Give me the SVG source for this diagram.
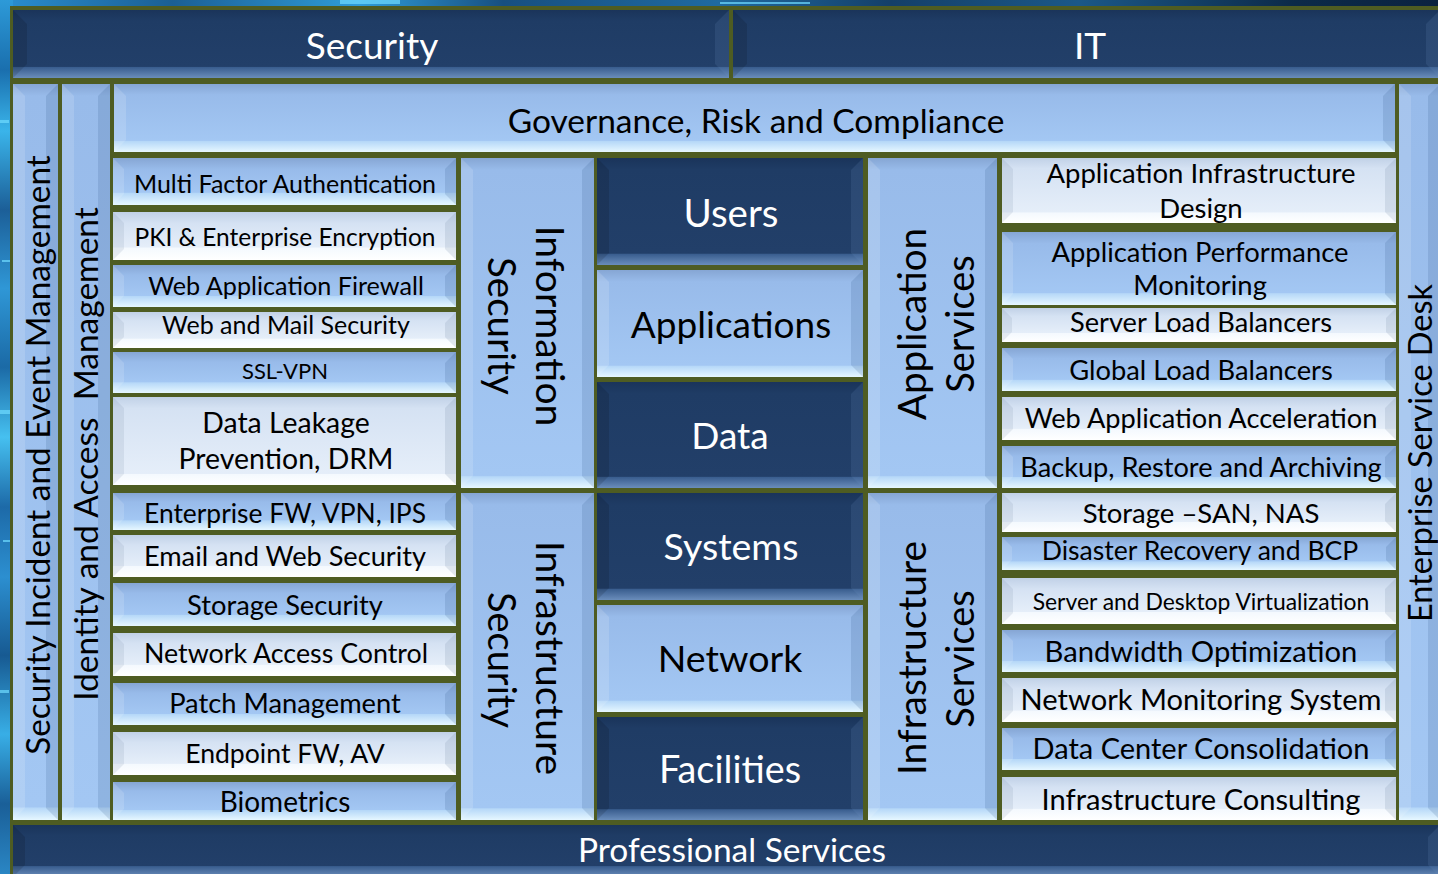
<svg xmlns="http://www.w3.org/2000/svg" width="1438" height="874" viewBox="0 0 1438 874">
  <defs>
    <!-- backdrop -->
    <linearGradient id="bgL" x1="0" y1="0" x2="0" y2="1">
      <stop offset="0" stop-color="#2d9ad8"/>
      <stop offset="0.08" stop-color="#1a6fae"/>
      <stop offset="0.15" stop-color="#3ab4ea"/>
      <stop offset="0.24" stop-color="#1c5f98"/>
      <stop offset="0.33" stop-color="#2f97d6"/>
      <stop offset="0.42" stop-color="#1b6aa6"/>
      <stop offset="0.5" stop-color="#46c0f0"/>
      <stop offset="0.58" stop-color="#1d6aa8"/>
      <stop offset="0.66" stop-color="#2c8fd0"/>
      <stop offset="0.75" stop-color="#175a92"/>
      <stop offset="0.84" stop-color="#38aee6"/>
      <stop offset="0.92" stop-color="#1a5f98"/>
      <stop offset="1" stop-color="#2a86c4"/>
    </linearGradient>
    <linearGradient id="bgT" x1="0" y1="0" x2="1" y2="0">
      <stop offset="0" stop-color="#2a8fd0"/>
      <stop offset="0.12" stop-color="#1b5f94"/>
      <stop offset="0.25" stop-color="#2f9cd8"/>
      <stop offset="0.35" stop-color="#174f80"/>
      <stop offset="0.5" stop-color="#1f6aa0"/>
      <stop offset="0.62" stop-color="#143f68"/>
      <stop offset="0.75" stop-color="#1b5888"/>
      <stop offset="0.9" stop-color="#0c2a48"/>
      <stop offset="1" stop-color="#0a2240"/>
    </linearGradient>

    <!-- light blue bevel fills, by box height -->
    <linearGradient id="lt42" x1="0" y1="0" x2="0" y2="1">
      <stop offset="0" stop-color="#86a6d4"/><stop offset="0.24" stop-color="#98bbea"/>
      <stop offset="0.73" stop-color="#a3c7f3"/><stop offset="0.75" stop-color="#b6d8f8"/>
      <stop offset="1" stop-color="#e6f7ff"/>
    </linearGradient>
    <linearGradient id="lt70" x1="0" y1="0" x2="0" y2="1">
      <stop offset="0" stop-color="#86a6d4"/><stop offset="0.16" stop-color="#98bbea"/>
      <stop offset="0.83" stop-color="#a3c7f3"/><stop offset="0.845" stop-color="#b6d8f8"/>
      <stop offset="1" stop-color="#e6f7ff"/>
    </linearGradient>
    <linearGradient id="lt107" x1="0" y1="0" x2="0" y2="1">
      <stop offset="0" stop-color="#86a6d4"/><stop offset="0.11" stop-color="#98bbea"/>
      <stop offset="0.89" stop-color="#a3c7f3"/><stop offset="0.9" stop-color="#b6d8f8"/>
      <stop offset="1" stop-color="#e6f7ff"/>
    </linearGradient>
    <linearGradient id="lt330" x1="0" y1="0" x2="0" y2="1">
      <stop offset="0" stop-color="#86a6d4"/><stop offset="0.036" stop-color="#98bbea"/>
      <stop offset="0.962" stop-color="#a3c7f3"/><stop offset="0.966" stop-color="#b6d8f8"/>
      <stop offset="1" stop-color="#e6f7ff"/>
    </linearGradient>
    <linearGradient id="lt736" x1="0" y1="0" x2="0" y2="1">
      <stop offset="0" stop-color="#86a6d4"/><stop offset="0.016" stop-color="#98bbea"/>
      <stop offset="0.982" stop-color="#a3c7f3"/><stop offset="0.984" stop-color="#b6d8f8"/>
      <stop offset="1" stop-color="#e6f7ff"/>
    </linearGradient>

    <!-- pale / white bevel fills -->
    <linearGradient id="wt42" x1="0" y1="0" x2="0" y2="1">
      <stop offset="0" stop-color="#c1d1e7"/><stop offset="0.24" stop-color="#d5e2f3"/>
      <stop offset="0.73" stop-color="#e5eef9"/><stop offset="0.75" stop-color="#f4f9fe"/>
      <stop offset="1" stop-color="#ffffff"/>
    </linearGradient>
    <linearGradient id="wt70" x1="0" y1="0" x2="0" y2="1">
      <stop offset="0" stop-color="#c1d1e7"/><stop offset="0.16" stop-color="#d5e2f3"/>
      <stop offset="0.83" stop-color="#e5eef9"/><stop offset="0.845" stop-color="#f4f9fe"/>
      <stop offset="1" stop-color="#ffffff"/>
    </linearGradient>
    <linearGradient id="wt88" x1="0" y1="0" x2="0" y2="1">
      <stop offset="0" stop-color="#c1d1e7"/><stop offset="0.13" stop-color="#d5e2f3"/>
      <stop offset="0.87" stop-color="#e5eef9"/><stop offset="0.88" stop-color="#f4f9fe"/>
      <stop offset="1" stop-color="#ffffff"/>
    </linearGradient>

    <!-- navy bevel fills -->
    <linearGradient id="dk70" x1="0" y1="0" x2="0" y2="1">
      <stop offset="0" stop-color="#1a345a"/><stop offset="0.16" stop-color="#1f3c65"/>
      <stop offset="0.83" stop-color="#223f69"/><stop offset="0.845" stop-color="#3a5e8f"/>
      <stop offset="1" stop-color="#6a8dbb"/>
    </linearGradient>
    <linearGradient id="dk107" x1="0" y1="0" x2="0" y2="1">
      <stop offset="0" stop-color="#1a345a"/><stop offset="0.11" stop-color="#1f3c65"/>
      <stop offset="0.89" stop-color="#223f69"/><stop offset="0.9" stop-color="#3a5e8f"/>
      <stop offset="1" stop-color="#6a8dbb"/>
    </linearGradient>
    <linearGradient id="dk52" x1="0" y1="0" x2="0" y2="1">
      <stop offset="0" stop-color="#1a345a"/><stop offset="0.2" stop-color="#1f3c65"/>
      <stop offset="0.78" stop-color="#223f69"/><stop offset="0.8" stop-color="#3a5e8f"/>
      <stop offset="1" stop-color="#6a8dbb"/>
    </linearGradient>

    <style>
      .sl { fill: #ffffff; fill-opacity: 0.14; }
      .sr { fill: #2c4f80; fill-opacity: 0.16; }
      .wl { fill: #7d8fa8; fill-opacity: 0.16; }
      .wr { fill: #7d8fa8; fill-opacity: 0.2; }
      .dl { fill: #000000; fill-opacity: 0.12; }
      .dr { fill: #7a9bcc; fill-opacity: 0.14; }
      text { font-family: Lato, "Open Sans", "Liberation Sans", sans-serif; text-anchor: middle; }
      .k { fill: #000000; }
      .w { fill: #ffffff; }
      .pre { white-space: pre; }
    </style>
  </defs>

  <!-- backdrop behind the grid -->
  <rect width="1438" height="874" fill="#0b2a48"/>
  <rect x="0" y="0" width="1438" height="10" fill="url(#bgT)"/>
  <rect x="0" y="0" width="13" height="874" fill="url(#bgL)"/>
  <g fill="#6fdcff" fill-opacity="0.7">
    <rect x="0" y="120" width="9" height="3"/>
    <rect x="2" y="260" width="8" height="2"/>
    <rect x="0" y="410" width="10" height="4"/>
    <rect x="3" y="540" width="7" height="2"/>
    <rect x="0" y="690" width="9" height="3"/>
    <rect x="340" y="0" width="60" height="4"/>
    <rect x="720" y="2" width="90" height="2"/>
  </g>

  <!-- olive frame showing between tiles -->
  <rect x="10" y="6" width="1430" height="870" fill="#4e5c22"/>

  <!-- header row -->
  <g id="security">
    <rect x="13" y="10" width="716" height="68" fill="url(#dk70)"/>
    <polygon class="dl" points="13,10 27,24 27,64 13,78"/>
    <polygon class="dr" points="729,10 715,24 715,64 729,78"/>
    <text class="w" x="372" y="59" font-size="37">Security</text>
  </g>
  <g id="it">
    <rect x="733" y="10" width="707" height="68" fill="url(#dk70)"/>
    <polygon class="dl" points="733,10 747,24 747,64 733,78"/>
    <polygon class="dr" points="1440,10 1426,24 1426,64 1440,78"/>
    <text class="w" x="1090" y="59" font-size="37">IT</text>
  </g>
  <g id="grc">
    <rect x="114" y="84" width="1281" height="68" fill="url(#lt70)"/>
    <polygon class="sl" points="114,84 126,96 126,140 114,152"/>
    <polygon class="sr" points="1395,84 1383,96 1383,140 1395,152"/>
    <text class="k" x="756" y="133" font-size="33.5">Governance, Risk and Compliance</text>
  </g>

  <!-- outer vertical bands -->
  <g id="siem">
    <rect x="13" y="84" width="45" height="736" fill="url(#lt736)"/>
    <polygon class="sl" points="13,84 25,96 25,808 13,820"/>
    <polygon class="sr" points="58,84 46,96 46,808 58,820"/>
    <text class="k" transform="translate(50,455) rotate(-90)" font-size="33.3">Security Incident and Event Management</text>
  </g>
  <g id="iam">
    <rect x="62" y="84" width="48" height="736" fill="url(#lt736)"/>
    <polygon class="sl" points="62,84 74,96 74,808 62,820"/>
    <polygon class="sr" points="110,84 98,96 98,808 110,820"/>
    <text class="k pre" transform="translate(98,454) rotate(-90)" font-size="33.5">Identity and Access  Management</text>
  </g>
  <g id="service-desk">
    <rect x="1399" y="84" width="41" height="736" fill="url(#lt736)"/>
    <polygon class="sl" points="1399,84 1411,96 1411,808 1399,820"/>
    <polygon class="sr" points="1440,84 1428,96 1428,808 1440,820"/>
    <text class="k" transform="translate(1432,453) rotate(-90)" font-size="32.5">Enterprise Service Desk</text>
  </g>
  <g id="professional-services">
    <rect x="13" y="825" width="1427" height="52" fill="url(#dk52)"/>
    <polygon class="dl" points="13,825 25,837 25,865 13,877"/>
    <polygon class="dr" points="1440,825 1428,837 1428,865 1440,877"/>
    <text class="w" x="732" y="862" font-size="33.5">Professional Services</text>
  </g>

  <!-- security offerings, left list -->
  <g id="mfa">
    <rect x="113" y="158" width="343" height="47" fill="url(#lt42)"/>
    <polygon class="sl" points="113,158 124,169 124,194 113,205"/>
    <polygon class="sr" points="456,158 445,169 445,194 456,205"/>
    <text class="k" x="285" y="193" font-size="25">Multi Factor Authentication</text>
  </g>
  <g id="pki">
    <rect x="113" y="212" width="343" height="48" fill="url(#wt42)"/>
    <polygon class="wl" points="113,212 124,223 124,249 113,260"/>
    <polygon class="wr" points="456,212 445,223 445,249 456,260"/>
    <text class="k" x="285" y="246" font-size="24.5">PKI &amp; Enterprise Encryption</text>
  </g>
  <g id="waf">
    <rect x="113" y="265" width="343" height="42" fill="url(#lt42)"/>
    <polygon class="sl" points="113,265 124,276 124,296 113,307"/>
    <polygon class="sr" points="456,265 445,276 445,296 456,307"/>
    <text class="k" x="286" y="295" font-size="25.2">Web Application Firewall</text>
  </g>
  <g id="web-mail">
    <rect x="113" y="312" width="343" height="36" fill="url(#wt42)"/>
    <polygon class="wl" points="113,312 124,323 124,337 113,348"/>
    <polygon class="wr" points="456,312 445,323 445,337 456,348"/>
    <text class="k" x="286" y="334" font-size="25">Web and Mail Security</text>
  </g>
  <g id="ssl-vpn">
    <rect x="113" y="352" width="343" height="41" fill="url(#lt42)"/>
    <polygon class="sl" points="113,352 124,363 124,382 113,393"/>
    <polygon class="sr" points="456,352 445,363 445,382 456,393"/>
    <text class="k" x="285" y="379" font-size="22">SSL-VPN</text>
  </g>
  <g id="dlp">
    <rect x="113" y="397" width="343" height="88" fill="url(#wt88)"/>
    <polygon class="wl" points="113,397 124,408 124,474 113,485"/>
    <polygon class="wr" points="456,397 445,408 445,474 456,485"/>
    <text class="k" x="286" y="433" font-size="28.4">Data Leakage</text>
    <text class="k" x="286" y="469" font-size="28.4">Prevention, DRM</text>
  </g>
  <g id="enterprise-fw">
    <rect x="113" y="493" width="343" height="37" fill="url(#lt42)"/>
    <polygon class="sl" points="113,493 124,504 124,519 113,530"/>
    <polygon class="sr" points="456,493 445,504 445,519 456,530"/>
    <text class="k" x="285" y="523" font-size="26.4">Enterprise FW, VPN, IPS</text>
  </g>
  <g id="email-web">
    <rect x="113" y="535" width="343" height="42" fill="url(#wt42)"/>
    <polygon class="wl" points="113,535 124,546 124,566 113,577"/>
    <polygon class="wr" points="456,535 445,546 445,566 456,577"/>
    <text class="k" x="285" y="566" font-size="27.2">Email and Web Security</text>
  </g>
  <g id="storage-security">
    <rect x="113" y="583" width="343" height="43" fill="url(#lt42)"/>
    <polygon class="sl" points="113,583 124,594 124,615 113,626"/>
    <polygon class="sr" points="456,583 445,594 445,615 456,626"/>
    <text class="k" x="285" y="615" font-size="27.3">Storage Security</text>
  </g>
  <g id="nac">
    <rect x="113" y="633" width="343" height="43" fill="url(#wt42)"/>
    <polygon class="wl" points="113,633 124,644 124,665 113,676"/>
    <polygon class="wr" points="456,633 445,644 445,665 456,676"/>
    <text class="k" x="286" y="663" font-size="26.8">Network Access Control</text>
  </g>
  <g id="patch">
    <rect x="113" y="683" width="343" height="42" fill="url(#lt42)"/>
    <polygon class="sl" points="113,683 124,694 124,714 113,725"/>
    <polygon class="sr" points="456,683 445,694 445,714 456,725"/>
    <text class="k" x="285" y="713" font-size="27.3">Patch Management</text>
  </g>
  <g id="endpoint">
    <rect x="113" y="732" width="343" height="43" fill="url(#wt42)"/>
    <polygon class="wl" points="113,732 124,743 124,764 113,775"/>
    <polygon class="wr" points="456,732 445,743 445,764 456,775"/>
    <text class="k" x="285" y="763" font-size="26.6">Endpoint FW, AV</text>
  </g>
  <g id="biometrics">
    <rect x="113" y="782" width="343" height="38" fill="url(#lt42)"/>
    <polygon class="sl" points="113,782 124,793 124,809 113,820"/>
    <polygon class="sr" points="456,782 445,793 445,809 456,820"/>
    <text class="k" x="285" y="812" font-size="28">Biometrics</text>
  </g>

  <!-- security pillars -->
  <g id="information-security">
    <rect x="461" y="158" width="133" height="330" fill="url(#lt330)"/>
    <polygon class="sl" points="461,158 473,170 473,476 461,488"/>
    <polygon class="sr" points="594,158 582,170 582,476 594,488"/>
    <text class="k" transform="translate(536,326) rotate(90)" font-size="39">Information</text>
    <text class="k" transform="translate(488,326) rotate(90)" font-size="38.5">Security</text>
  </g>
  <g id="infrastructure-security">
    <rect x="461" y="493" width="133" height="327" fill="url(#lt330)"/>
    <polygon class="sl" points="461,493 473,505 473,808 461,820"/>
    <polygon class="sr" points="594,493 582,505 582,808 594,820"/>
    <text class="k" transform="translate(536,658) rotate(90)" font-size="39">Infrastructure</text>
    <text class="k" transform="translate(488,660) rotate(90)" font-size="38">Security</text>
  </g>

  <!-- core layers -->
  <g id="users">
    <rect x="597" y="158" width="266" height="107" fill="url(#dk107)"/>
    <polygon class="dl" points="597,158 609,170 609,253 597,265"/>
    <polygon class="dr" points="863,158 851,170 851,253 863,265"/>
    <text class="w" x="731" y="227" font-size="38.5">Users</text>
  </g>
  <g id="applications">
    <rect x="597" y="270" width="266" height="107" fill="url(#lt107)"/>
    <polygon class="sl" points="597,270 609,282 609,365 597,377"/>
    <polygon class="sr" points="863,270 851,282 851,365 863,377"/>
    <text class="k" x="731" y="338" font-size="37">Applications</text>
  </g>
  <g id="data">
    <rect x="597" y="382" width="266" height="106" fill="url(#dk107)"/>
    <polygon class="dl" points="597,382 609,394 609,476 597,488"/>
    <polygon class="dr" points="863,382 851,394 851,476 863,488"/>
    <text class="w" x="730" y="449" font-size="37">Data</text>
  </g>
  <g id="systems">
    <rect x="597" y="493" width="266" height="107" fill="url(#dk107)"/>
    <polygon class="dl" points="597,493 609,505 609,588 597,600"/>
    <polygon class="dr" points="863,493 851,505 851,588 863,600"/>
    <text class="w" x="731" y="560" font-size="37.5">Systems</text>
  </g>
  <g id="network">
    <rect x="597" y="605" width="266" height="107" fill="url(#lt107)"/>
    <polygon class="sl" points="597,605 609,617 609,700 597,712"/>
    <polygon class="sr" points="863,605 851,617 851,700 863,712"/>
    <text class="k" x="730" y="672" font-size="37.6">Network</text>
  </g>
  <g id="facilities">
    <rect x="597" y="717" width="266" height="103" fill="url(#dk107)"/>
    <polygon class="dl" points="597,717 609,729 609,808 597,820"/>
    <polygon class="dr" points="863,717 851,729 851,808 863,820"/>
    <text class="w" x="730" y="783" font-size="37.8">Facilities</text>
  </g>

  <!-- IT pillars -->
  <g id="application-services">
    <rect x="868" y="158" width="129" height="330" fill="url(#lt330)"/>
    <polygon class="sl" points="868,158 880,170 880,476 868,488"/>
    <polygon class="sr" points="997,158 985,170 985,476 997,488"/>
    <text class="k" transform="translate(926,324) rotate(-90)" font-size="38.6">Application</text>
    <text class="k" transform="translate(974,324) rotate(-90)" font-size="38">Services</text>
  </g>
  <g id="infrastructure-services">
    <rect x="868" y="493" width="129" height="327" fill="url(#lt330)"/>
    <polygon class="sl" points="868,493 880,505 880,808 868,820"/>
    <polygon class="sr" points="997,493 985,505 985,808 997,820"/>
    <text class="k" transform="translate(926,658) rotate(-90)" font-size="39">Infrastructure</text>
    <text class="k" transform="translate(974,659) rotate(-90)" font-size="38">Services</text>
  </g>

  <!-- IT offerings, right list -->
  <g id="app-infra-design">
    <rect x="1002" y="158" width="394" height="65" fill="url(#wt70)"/>
    <polygon class="wl" points="1002,158 1013,169 1013,212 1002,223"/>
    <polygon class="wr" points="1396,158 1385,169 1385,212 1396,223"/>
    <text class="k" x="1201" y="183" font-size="27.5">Application Infrastructure</text>
    <text class="k" x="1201" y="218" font-size="27.5">Design</text>
  </g>
  <g id="apm">
    <rect x="1002" y="232" width="394" height="73" fill="url(#lt70)"/>
    <polygon class="sl" points="1002,232 1013,243 1013,294 1002,305"/>
    <polygon class="sr" points="1396,232 1385,243 1385,294 1396,305"/>
    <text class="k" x="1200" y="262" font-size="27.4">Application Performance</text>
    <text class="k" x="1200" y="295" font-size="27.4">Monitoring</text>
  </g>
  <g id="server-lb">
    <rect x="1002" y="308" width="394" height="34" fill="url(#wt42)"/>
    <polygon class="wl" points="1002,308 1012,318 1012,332 1002,342"/>
    <polygon class="wr" points="1396,308 1386,318 1386,332 1396,342"/>
    <text class="k" x="1201" y="332" font-size="27.2">Server Load Balancers</text>
  </g>
  <g id="global-lb">
    <rect x="1002" y="348" width="394" height="43" fill="url(#lt42)"/>
    <polygon class="sl" points="1002,348 1013,359 1013,380 1002,391"/>
    <polygon class="sr" points="1396,348 1385,359 1385,380 1396,391"/>
    <text class="k" x="1201" y="380" font-size="27.3">Global Load Balancers</text>
  </g>
  <g id="web-accel">
    <rect x="1002" y="397" width="394" height="43" fill="url(#wt42)"/>
    <polygon class="wl" points="1002,397 1013,408 1013,429 1002,440"/>
    <polygon class="wr" points="1396,397 1385,408 1385,429 1396,440"/>
    <text class="k" x="1201" y="428" font-size="27.2">Web Application Acceleration</text>
  </g>
  <g id="backup">
    <rect x="1002" y="446" width="394" height="42" fill="url(#lt42)"/>
    <polygon class="sl" points="1002,446 1013,457 1013,477 1002,488"/>
    <polygon class="sr" points="1396,446 1385,457 1385,477 1396,488"/>
    <text class="k" x="1201" y="477" font-size="27.2">Backup, Restore and Archiving</text>
  </g>
  <g id="storage-san">
    <rect x="1002" y="493" width="394" height="39" fill="url(#wt42)"/>
    <polygon class="wl" points="1002,493 1013,504 1013,521 1002,532"/>
    <polygon class="wr" points="1396,493 1385,504 1385,521 1396,532"/>
    <text class="k" x="1201" y="523" font-size="27.5">Storage –SAN, NAS</text>
  </g>
  <g id="disaster-recovery">
    <rect x="1002" y="537" width="394" height="33" fill="url(#lt42)"/>
    <polygon class="sl" points="1002,537 1012,547 1012,560 1002,570"/>
    <polygon class="sr" points="1396,537 1386,547 1386,560 1396,570"/>
    <text class="k" x="1200" y="560" font-size="26.6">Disaster Recovery and BCP</text>
  </g>
  <g id="virtualization">
    <rect x="1002" y="578" width="394" height="46" fill="url(#wt42)"/>
    <polygon class="wl" points="1002,578 1013,589 1013,613 1002,624"/>
    <polygon class="wr" points="1396,578 1385,589 1385,613 1396,624"/>
    <text class="k" x="1201" y="610" font-size="22.9">Server and Desktop Virtualization</text>
  </g>
  <g id="bandwidth">
    <rect x="1002" y="630" width="394" height="42" fill="url(#lt42)"/>
    <polygon class="sl" points="1002,630 1013,641 1013,661 1002,672"/>
    <polygon class="sr" points="1396,630 1385,641 1385,661 1396,672"/>
    <text class="k" x="1201" y="662" font-size="29.2">Bandwidth Optimization</text>
  </g>
  <g id="network-monitoring">
    <rect x="1002" y="678" width="394" height="44" fill="url(#wt42)"/>
    <polygon class="wl" points="1002,678 1013,689 1013,711 1002,722"/>
    <polygon class="wr" points="1396,678 1385,689 1385,711 1396,722"/>
    <text class="k" x="1201" y="710" font-size="29.1">Network Monitoring System</text>
  </g>
  <g id="dc-consolidation">
    <rect x="1002" y="728" width="394" height="42" fill="url(#lt42)"/>
    <polygon class="sl" points="1002,728 1013,739 1013,759 1002,770"/>
    <polygon class="sr" points="1396,728 1385,739 1385,759 1396,770"/>
    <text class="k" x="1201" y="759" font-size="29">Data Center Consolidation</text>
  </g>
  <g id="infra-consulting">
    <rect x="1002" y="777" width="394" height="43" fill="url(#wt42)"/>
    <polygon class="wl" points="1002,777 1013,788 1013,809 1002,820"/>
    <polygon class="wr" points="1396,777 1385,788 1385,809 1396,820"/>
    <text class="k" x="1201" y="810" font-size="29.1">Infrastructure Consulting</text>
  </g>

  <g id="connectors"/>
</svg>
